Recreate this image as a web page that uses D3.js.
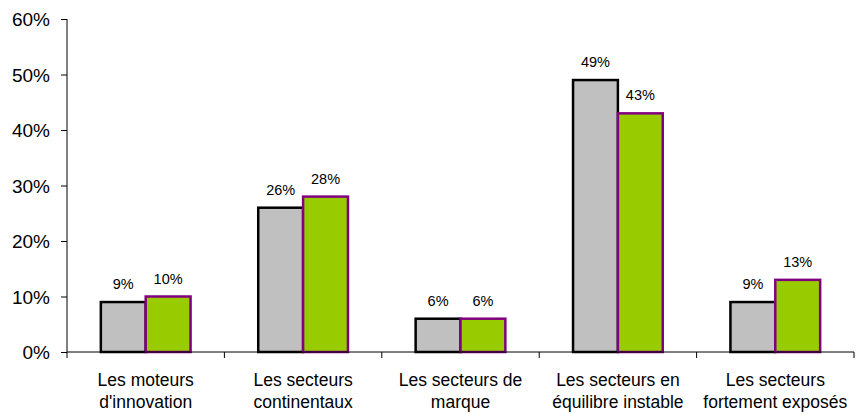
<!DOCTYPE html>
<html>
<head>
<meta charset="utf-8">
<script src="https://cdn.jsdelivr.net/npm/d3@7/dist/d3.min.js"></script>
<style>
  body { margin: 0; background: #fff; }
  text { font-family: "Liberation Sans", Arial, sans-serif; fill: #000; }
</style>
</head>
<body>
<div id="chart"></div>
<script>
var categories = [
    ["Les moteurs", "d'innovation"],
    ["Les secteurs", "continentaux"],
    ["Les secteurs de", "marque"],
    ["Les secteurs en", "équilibre instable"],
    ["Les secteurs", "fortement exposés"]
];
var seriesA = [9, 26, 6, 49, 9];
var seriesB = [10, 28, 6, 43, 13];
var yTicks = [0, 10, 20, 30, 40, 50, 60];

var svgWidth = 856, svgHeight = 414;
var plotLeft = 67, plotRight = 854, plotTop = 19, plotBottom = 352;

var svg = d3.select("#chart")
    .append("svg")
    .attr("width", svgWidth)
    .attr("height", svgHeight);

var x = d3.scaleBand()
    .domain(d3.range(categories.length))
    .range([plotLeft, plotRight])
    .paddingInner(0.43)
    .paddingOuter(0.215);

var y = d3.scaleLinear().domain([0, 60]).range([plotBottom, plotTop]);

var barW = x.bandwidth() / 2;

//bars
function drawSeries(values, offset, fill, stroke) {
    var g = svg.append("g");
    g.selectAll("rect")
        .data(values)
        .enter()
        .append("rect")
        .attr("x", function(d, i) { return x(i) + offset; })
        .attr("y", function(d) { return y(d); })
        .attr("width", barW)
        .attr("height", function(d) { return y(0) - y(d); })
        .attr("fill", fill)
        .attr("stroke", stroke)
        .attr("stroke-width", 2.5);

    g.selectAll("text")
        .data(values)
        .enter()
        .append("text")
        .attr("x", function(d, i) { return x(i) + offset + barW / 2; })
        .attr("y", function(d) { return y(d) - 13; })
        .attr("text-anchor", "middle")
        .style("font-size", "14.5px")
        .text(function(d) { return d + "%"; });
}

drawSeries(seriesA, 0, "#c0c0c0", "#000");
drawSeries(seriesB, barW, "#99cc00", "#800080");

//y axis
var yAxis = d3.axisLeft(y)
    .tickValues(yTicks)
    .tickSize(6)
    .tickFormat(function(d) { return d + "%"; });

var yg = svg.append("g")
    .attr("transform", "translate(" + plotLeft + ",0)")
    .call(yAxis);
yg.selectAll("text").style("font-size", "19px").attr("x", -17).attr("dy", "0.35em");
yg.select(".domain").attr("stroke", "#000").attr("d", "M0," + plotTop + "V" + plotBottom);
yg.selectAll(".tick line").attr("stroke", "#000");

//x axis line and category ticks
var step = x.step();
var bounds = d3.range(categories.length + 1).map(function(i) {
    return i < categories.length ? x(i) - x.paddingOuter() * step : plotRight;
});

svg.append("line")
    .attr("x1", plotLeft).attr("x2", plotRight)
    .attr("y1", plotBottom).attr("y2", plotBottom)
    .attr("stroke", "#000");

svg.selectAll("line.xtick")
    .data(bounds)
    .enter()
    .append("line")
    .attr("class", "xtick")
    .attr("x1", function(d) { return d; })
    .attr("x2", function(d) { return d; })
    .attr("y1", plotBottom)
    .attr("y2", plotBottom + 6)
    .attr("stroke", "#000");

var labels = svg.selectAll("text.cat")
    .data(categories)
    .enter()
    .append("text")
    .attr("class", "cat")
    .attr("text-anchor", "middle")
    .style("font-size", "17.5px")
    .attr("transform", function(d, i) {
        return "translate(" + (x(i) + x.bandwidth() / 2) + "," + 386 + ")";
    });

labels.selectAll("tspan")
    .data(function(d) { return d; })
    .enter()
    .append("tspan")
    .attr("x", 0)
    .attr("y", function(d, i) { return i * 22; })
    .text(function(d) { return d; });
</script>
</body>
</html>
